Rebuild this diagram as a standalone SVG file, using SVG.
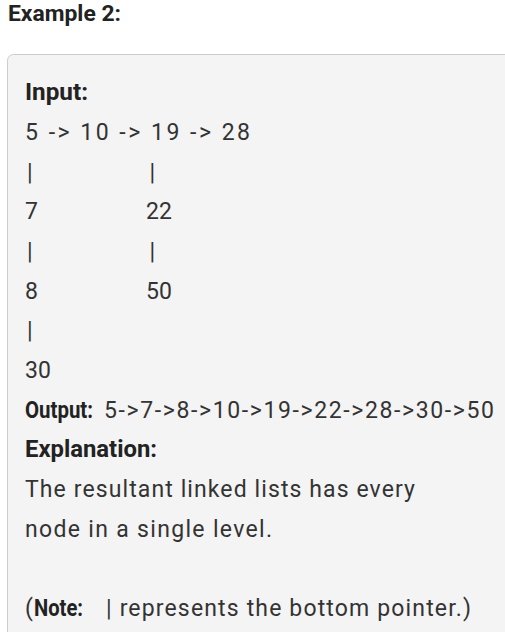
<svg xmlns="http://www.w3.org/2000/svg" width="505" height="632" viewBox="0 0 505 632">
<style>
.t{font-family:Roboto,"Liberation Sans",sans-serif;font-size:23px;fill:#333333}
.b{font-family:Roboto,"Liberation Sans",sans-serif;font-size:23px;font-weight:bold;fill:#222222}
</style>
<rect width="505" height="632" fill="#ffffff"/>
<g id="title">
<text class="b" x="8" y="20.5" style="font-size:22px" textLength="113" lengthAdjust="spacingAndGlyphs">Example 2:</text>
</g>
<g id="panel">
<rect x="7.5" y="54.5" width="620" height="700" rx="6" fill="#f4f4f4" stroke="#cccccc" stroke-width="1"/>
</g>
<g id="input">
<text class="b" x="25" y="100.3" textLength="63" lengthAdjust="spacingAndGlyphs">Input:</text>
<text class="t" x="25" y="140" textLength="225">5 -&gt; 10 -&gt; 19 -&gt; 28</text>
</g>
<g id="connectors">
<text class="t" x="27" y="179.7">|</text>
<text class="t" x="149.5" y="179.7">|</text>
<text class="t" x="27" y="259">|</text>
<text class="t" x="149.5" y="259">|</text>
<text class="t" x="27" y="338.3">|</text>
</g>
<g id="nodes">
<text class="t" x="25" y="219.3">7</text>
<text class="t" x="146" y="219.3">22</text>
<text class="t" x="25" y="298.7">8</text>
<text class="t" x="146" y="298.7">50</text>
<text class="t" x="25" y="378">30</text>
</g>
<g id="output">
<text class="b" x="25" y="417.7" textLength="68" lengthAdjust="spacingAndGlyphs">Output:</text>
<text class="t" x="104" y="417.7" textLength="390">5-&gt;7-&gt;8-&gt;10-&gt;19-&gt;22-&gt;28-&gt;30-&gt;50</text>
</g>
<g id="explanation">
<text class="b" x="25" y="457.3" textLength="132" lengthAdjust="spacingAndGlyphs">Explanation:</text>
<text class="t" x="25" y="497" textLength="390">The resultant linked lists has every</text>
<text class="t" x="25" y="536.7" textLength="247">node in a single level.</text>
</g>
<g id="note">
<text class="t" x="25" y="616.3">(</text>
<text class="b" x="34" y="616.3" textLength="49" lengthAdjust="spacingAndGlyphs">Note:</text>
<text class="t" x="106" y="616.3" textLength="365">| represents the bottom pointer.)</text>
</g>
</svg>
